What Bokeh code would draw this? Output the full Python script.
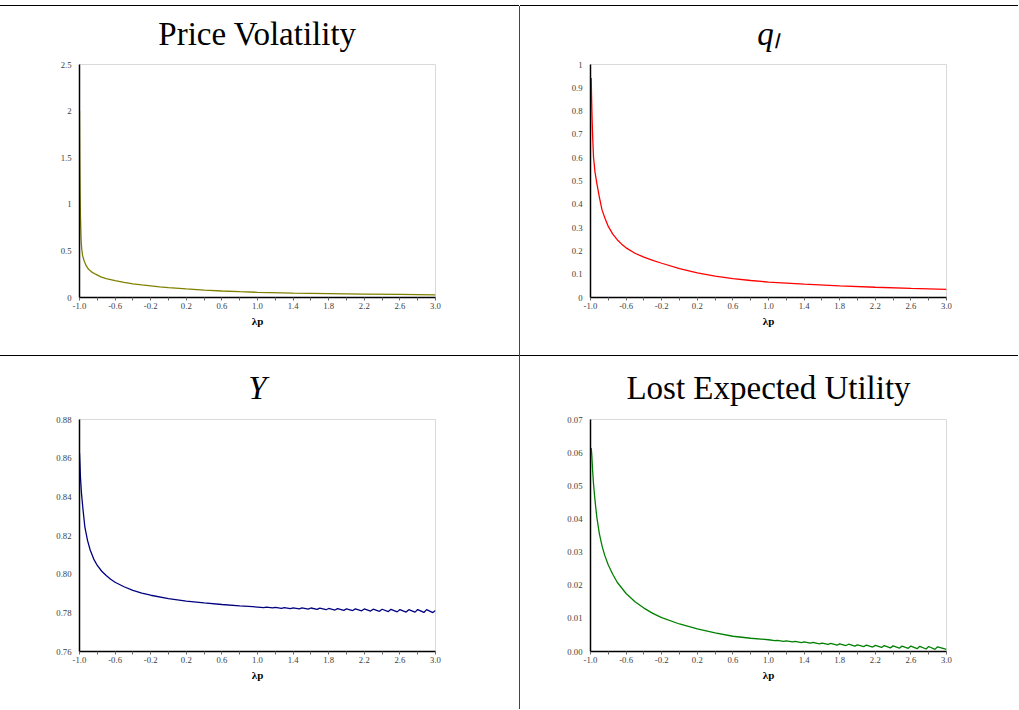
from bokeh.plotting import figure
from bokeh.models import Range1d, FixedTicker, Div
from bokeh.layouts import column, row
from bokeh.embed import file_html
from bokeh.resources import INLINE

# ---------------- shared x axis ----------------
x_major = [-1.0, -0.6, -0.2, 0.2, 0.6, 1.0, 1.4, 1.8, 2.2, 2.6, 3.0]
x_minor = [-0.8, -0.4, 0.0, 0.4, 0.8, 1.2, 1.6, 2.0, 2.4, 2.8]
x_labels = ["-1.0", "-0.6", "-0.2", "0.2", "0.6", "1.0", "1.4", "1.8", "2.2", "2.6", "3.0"]
x_title = "λp"

# ---------------- Price Volatility ----------------
pv_title = "Price Volatility"
pv_x = [-1.0, -0.997, -0.993, -0.989, -0.982, -0.975, -0.965, -0.95, -0.93, -0.9,
        -0.86, -0.82, -0.76, -0.7, -0.6, -0.5, -0.4, -0.3, -0.2, -0.1,
        0.0, 0.2, 0.4, 0.6, 0.8, 1.0, 1.4, 1.8, 2.2, 2.6, 3.0]
pv_y = [2.0, 1.5, 1.1, 0.86, 0.62, 0.52, 0.45, 0.40, 0.35, 0.305,
        0.272, 0.25, 0.222, 0.203, 0.18, 0.162, 0.147, 0.135, 0.125, 0.115,
        0.106, 0.092, 0.080, 0.070, 0.062, 0.056, 0.048, 0.042, 0.037, 0.033, 0.029]
pv_ticks = [0, 0.5, 1, 1.5, 2, 2.5]
pv_labels = ["0", "0.5", "1", "1.5", "2", "2.5"]

# ---------------- q_l ----------------
ql_title = "qₗ"
ql_x = [-0.992, -0.988, -0.983, -0.977, -0.966, -0.95, -0.928, -0.9, -0.87, -0.835,
        -0.8, -0.75, -0.7, -0.65, -0.6, -0.5, -0.4, -0.3, -0.2, 0.0,
        0.2, 0.4, 0.6, 0.8, 1.0, 1.4, 1.8, 2.2, 2.6, 3.0]
ql_y = [0.942, 0.86, 0.78, 0.703, 0.602, 0.54, 0.488, 0.43, 0.375, 0.338,
        0.305, 0.272, 0.248, 0.229, 0.213, 0.19, 0.173, 0.159, 0.147, 0.124,
        0.106, 0.092, 0.081, 0.073, 0.066, 0.057, 0.050, 0.044, 0.039, 0.035]
ql_ticks = [0, 0.1, 0.2, 0.3, 0.4, 0.5, 0.6, 0.7, 0.8, 0.9, 1]
ql_labels = ["0", "0.1", "0.2", "0.3", "0.4", "0.5", "0.6", "0.7", "0.8", "0.9", "1"]

# ---------------- Y ----------------
y_title = "Y"
yy_x = [-1.0, -0.994, -0.989, -0.978, -0.962, -0.94, -0.91, -0.88, -0.84, -0.8,
        -0.75, -0.7, -0.65, -0.6, -0.5, -0.4, -0.3, -0.2, 0.0, 0.2,
        0.4, 0.6, 0.8, 0.9,
        1.0, 1.07, 1.1, 1.17, 1.2, 1.27, 1.3, 1.37, 1.4, 1.47,
        1.5, 1.57, 1.6, 1.67, 1.7, 1.77, 1.8, 1.87, 1.9, 1.97,
        2.0, 2.07, 2.1, 2.17, 2.2, 2.27, 2.3, 2.37, 2.4, 2.47,
        2.5, 2.57, 2.6, 2.67, 2.7, 2.77, 2.8, 2.87, 2.9, 2.97, 3.0]
yy_y = [0.8626, 0.856, 0.850, 0.842, 0.834, 0.8245, 0.8175, 0.8125, 0.8078, 0.8045,
        0.8015, 0.7993, 0.7974, 0.7958, 0.7935, 0.7916, 0.7902, 0.7891, 0.7874, 0.7861,
        0.7851, 0.7843, 0.7836, 0.7833,
        0.7830, 0.7827, 0.78295, 0.78255, 0.78285, 0.78235, 0.7827, 0.7822, 0.7826, 0.7821,
        0.78255, 0.78195, 0.7825, 0.7818, 0.7824, 0.7816, 0.78225, 0.78145, 0.7822, 0.7813,
        0.7821, 0.7812, 0.78205, 0.78105, 0.7820, 0.7809, 0.7819, 0.7808, 0.78185, 0.78065,
        0.7818, 0.7805, 0.7817, 0.7804, 0.78165, 0.78035, 0.7817, 0.7802, 0.78165, 0.78015, 0.7812]
yy_ticks = [0.76, 0.78, 0.80, 0.82, 0.84, 0.86, 0.88]
yy_labels = ["0.76", "0.78", "0.80", "0.82", "0.84", "0.86", "0.88"]

# ---------------- Lost Expected Utility ----------------
leu_title = "Lost Expected Utility"
leu_x = [-0.992, -0.986, -0.976, -0.966, -0.948, -0.928, -0.9, -0.87, -0.84, -0.8,
         -0.75, -0.7, -0.6, -0.5, -0.4, -0.3, -0.2, 0.0, 0.2, 0.4,
         0.6, 0.8,
         1.0, 1.07, 1.1, 1.17, 1.2, 1.27, 1.3, 1.37, 1.4, 1.47,
         1.5, 1.57, 1.6, 1.67, 1.7, 1.77, 1.8, 1.87, 1.9, 1.97,
         2.0, 2.07, 2.1, 2.17, 2.2, 2.27, 2.3, 2.37, 2.4, 2.47,
         2.5, 2.57, 2.6, 2.67, 2.7, 2.77, 2.8, 2.87, 2.9, 3.0]
leu_y = [0.0614, 0.0595, 0.0545, 0.0505, 0.0452, 0.0403, 0.0355, 0.0318, 0.0290, 0.0261,
         0.0233, 0.0209, 0.0175, 0.0150, 0.0131, 0.0115, 0.0102, 0.0083, 0.0068, 0.0056,
         0.0046, 0.0040,
         0.00355, 0.00325, 0.00335, 0.00303, 0.00318, 0.00290, 0.00308, 0.00270, 0.00290, 0.00250,
         0.00272, 0.00230, 0.00255, 0.00215, 0.00245, 0.00195, 0.00228, 0.00180, 0.00220, 0.00160,
         0.00202, 0.00147, 0.00195, 0.00135, 0.00186, 0.00122, 0.00178, 0.00110, 0.00170, 0.00100,
         0.00162, 0.00095, 0.00165, 0.00085, 0.00157, 0.00075, 0.00150, 0.00065, 0.00142, 0.00065]
leu_ticks = [0.0, 0.01, 0.02, 0.03, 0.04, 0.05, 0.06, 0.07]
leu_labels = ["0.00", "0.01", "0.02", "0.03", "0.04", "0.05", "0.06", "0.07"]

SERIF = "Liberation Serif"


def panel(xs, ys, color, y_end, y_start, yticks, ylabels, title, italic,
          w, h, bl, br, bt, bb, tstand):
    p = figure(width=w, height=h, x_range=Range1d(-1.0, 3.0),
               y_range=Range1d(y_start, y_end),
               output_backend="svg", toolbar_location=None,
               min_border_left=bl, min_border_right=br,
               min_border_top=bt, min_border_bottom=bb)
    p.title.text = title
    p.title.align = "center"
    p.title.text_font = SERIF
    p.title.text_font_size = "33px"
    p.title.text_font_style = "italic" if italic else "normal"
    p.title.text_color = "black"
    p.title.standoff = tstand
    p.grid.visible = False
    p.outline_line_color = "#d9d9d9"
    p.outline_line_width = 1
    p.background_fill_color = "white"
    p.border_fill_color = None

    p.line(xs, ys, line_color=color, line_width=1.3)

    xa = p.xaxis[0]
    xa.ticker = FixedTicker(ticks=x_major, minor_ticks=x_minor)
    xa.major_label_overrides = dict(zip(x_major, x_labels))
    xa.axis_label = x_title
    xa.axis_label_text_font = SERIF
    xa.axis_label_text_font_size = "11px"
    xa.axis_label_text_font_style = "bold"
    xa.axis_label_text_color = "black"
    xa.axis_label_standoff = 3
    xa.major_label_text_font = SERIF
    xa.major_label_text_font_size = "8.7px"
    xa.major_label_text_color = "#404040"
    xa.major_label_standoff = 2
    xa.axis_line_color = "black"
    xa.axis_line_width = 1.5
    xa.major_tick_in = 0
    xa.major_tick_out = 3
    xa.minor_tick_in = 0
    xa.minor_tick_out = 3
    xa.major_tick_line_color = "#666666"
    xa.minor_tick_line_color = "#666666"

    ya = p.yaxis[0]
    ya.ticker = FixedTicker(ticks=yticks, minor_ticks=[])
    ya.major_label_overrides = dict(zip(yticks, ylabels))
    ya.major_label_text_font = SERIF
    ya.major_label_text_font_size = "8.7px"
    ya.major_label_text_color = "#404040"
    ya.major_label_standoff = 8
    ya.axis_line_color = "black"
    ya.axis_line_width = 1.5
    ya.major_tick_in = 0
    ya.major_tick_out = 0
    ya.major_tick_line_color = None
    ya.minor_tick_line_color = None
    return p


LW, RW = 519, 498
TOP_H, BOT_H = 355, 363
TOP_SHIFT, BOT_SHIFT = 6, 10

p1 = panel(pv_x, pv_y, "#808000", 2.5, 0, pv_ticks, pv_labels, pv_title, False,
           LW, TOP_H, 79, 84, 64, 58, 25)
p2 = panel(ql_x, ql_y, "#ff0000", 1, 0, ql_ticks, ql_labels, ql_title, True,
           RW, TOP_H, 70, 72, 64, 58, 25)
p3 = panel(yy_x, yy_y, "#000080", 0.88, 0.76, yy_ticks, yy_labels, y_title, True,
           LW, BOT_H, 79, 84, 73, 58, 27)
p4 = panel(leu_x, leu_y, "#008000", 0.07, 0.0, leu_ticks, leu_labels, leu_title, False,
           RW, BOT_H, 70, 72, 73, 58, 27)


def spacer(h):
    return Div(text="", width=LW + 1 + RW, height=h, margin=0,
               styles={"background-color": "white", "overflow": "hidden"})


def hline():
    return Div(text="", width=LW + 1 + RW, height=1, margin=0,
               styles={"background-color": "black", "overflow": "hidden"})


def vline(h, skip):
    return Div(text="", width=1, height=h, margin=0,
               styles={"background": "linear-gradient(white %dpx, #444444 %dpx)" % (skip, skip),
                       "overflow": "hidden"})


top_row = row(p1, vline(TOP_H, TOP_SHIFT), p2, spacing=0, margin=(-TOP_SHIFT, 0, 0, 0))
bot_row = row(p3, vline(BOT_H, 0), p4, spacing=0, margin=(-BOT_SHIFT, 0, 0, 0))

layout = column(spacer(5), hline(), top_row, hline(), bot_row, spacing=0)

open("out.html", "w").write(file_html(layout, INLINE))
